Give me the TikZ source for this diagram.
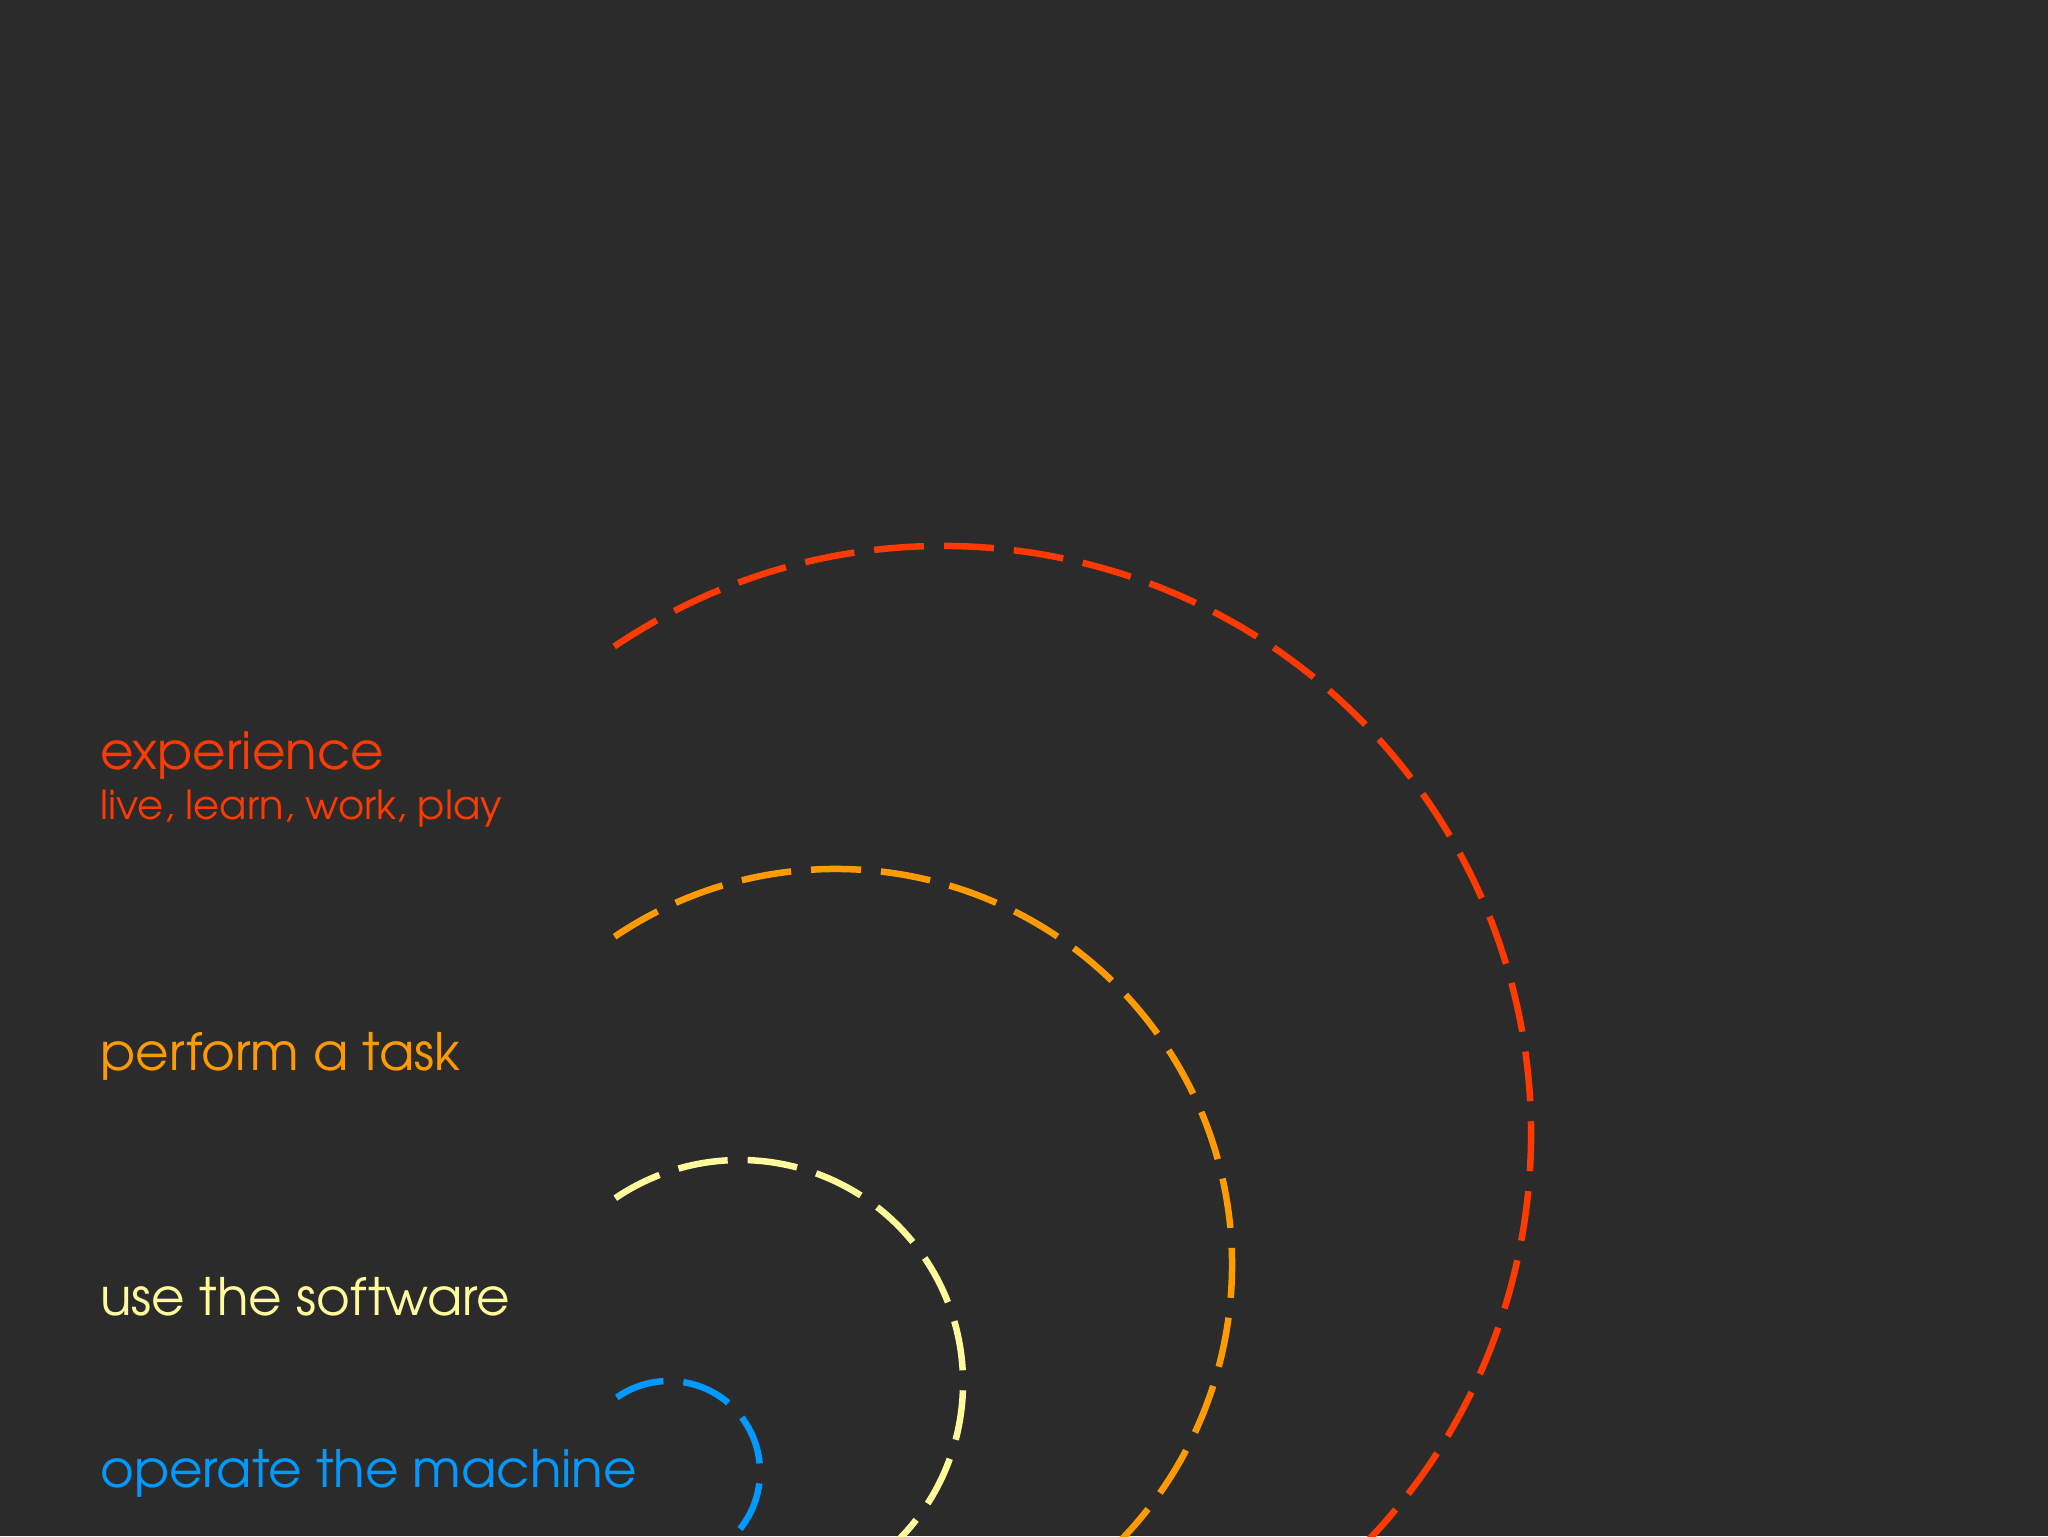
\documentclass[tikz,border=0pt]{standalone}
\usepackage{fontspec}
\setmainfont{TeX Gyre Adventor}
\definecolor{bg}{RGB}{43,43,44}
\definecolor{cred}{RGB}{255,58,0}
\definecolor{corange}{RGB}{255,155,0}
\definecolor{cyellow}{RGB}{255,250,155}
\definecolor{cblue}{RGB}{0,153,255}
\begin{document}
\begin{tikzpicture}[x=0.5pt,y=0.5pt,
  arcline/.style={line width=3.25pt, dash pattern=on 25pt off 10pt, line cap=butt},
  lbl/.style={anchor=base west, inner sep=0pt, font=\fontsize{25.8}{31}\selectfont},
  sublbl/.style={anchor=base west, inner sep=0pt, font=\fontsize{20}{24}\selectfont}]
\fill[bg] (0,0) rectangle (2048,1536);
\useasboundingbox (0,0) rectangle (2048,1536);
\begin{scope}
\clip (0,0) rectangle (2048,1536);
\draw[arcline, cred] (943,402) ++(124:588) arc[start angle=124, end angle=-90, radius=588];
\draw[arcline, corange] (836,271) ++(124:396) arc[start angle=124, end angle=-90, radius=396];
\draw[arcline, cyellow] (740,153) ++(124:223) arc[start angle=124, end angle=-90, radius=223];
\draw[arcline, cblue] (669,64) ++(125:91) arc[start angle=125, end angle=-90, radius=91];
\end{scope}
\node[lbl, text=cred] (exp) at (100,766) {experience};
\node[sublbl, text=cred] (live) at (100,716) {live, learn, work, play};
\node[lbl, text=corange] (task) at (100,465) {perform a task};
\node[lbl, text=cyellow] (soft) at (100,221) {use the software};
\node[lbl, text=cblue] (mach) at (100,49) {operate the machine};
\end{tikzpicture}
\end{document}
